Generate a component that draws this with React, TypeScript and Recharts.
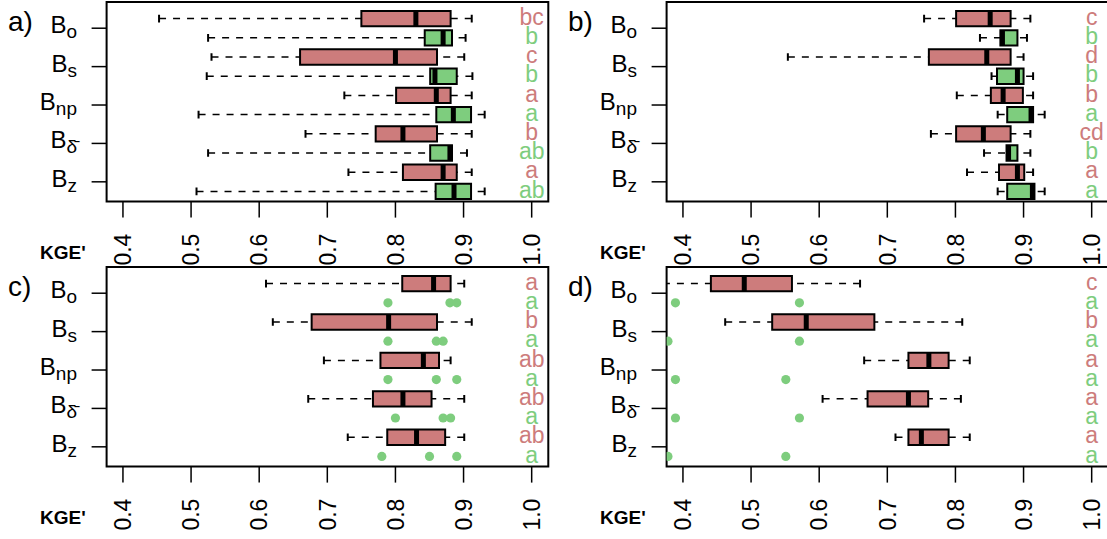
import React from "react";
import { ComposedChart, XAxis, YAxis, Scatter, ReferenceArea, ReferenceLine } from "recharts";

const groups = ["o", "s", "np", "δ\u0304", "z"];
const kgeTicks = [0.4, 0.5, 0.6, 0.7, 0.8, 0.9, 1.0];
const groupTicks = [1.5, 3.5, 5.5, 7.5, 9.5];

// [lower whisker, Q1, median, Q3, upper whisker] for each group
const redA = [
  [0.453, 0.75, 0.83, 0.881, 0.912],
  [0.53, 0.66, 0.8, 0.861, 0.901],
  [0.725, 0.801, 0.86, 0.881, 0.912],
  [0.668, 0.771, 0.811, 0.861, 0.912],
  [0.731, 0.811, 0.87, 0.89, 0.912],
];
const greenA = [
  [0.525, 0.843, 0.87, 0.883, 0.903],
  [0.523, 0.851, 0.858, 0.89, 0.913],
  [0.511, 0.86, 0.885, 0.911, 0.931],
  [0.525, 0.851, 0.88, 0.883, 0.905],
  [0.508, 0.859, 0.886, 0.911, 0.931],
];
const lettersA = ["bc", "b", "c", "b", "a", "a", "b", "ab", "a", "ab"];

const redB = [
  [0.754, 0.801, 0.851, 0.881, 0.91],
  [0.554, 0.761, 0.846, 0.881, 0.9],
  [0.802, 0.852, 0.87, 0.899, 0.914],
  [0.764, 0.801, 0.841, 0.881, 0.91],
  [0.817, 0.864, 0.891, 0.901, 0.914],
];
const greenB = [
  [0.836, 0.866, 0.869, 0.891, 0.905],
  [0.853, 0.861, 0.891, 0.9, 0.914],
  [0.862, 0.876, 0.911, 0.914, 0.931],
  [0.842, 0.875, 0.878, 0.891, 0.91],
  [0.862, 0.876, 0.913, 0.916, 0.931],
];
const lettersB = ["c", "b", "d", "b", "b", "a", "cd", "b", "a", "a"];

const redC = [
  [0.61, 0.81, 0.856, 0.881, 0.901],
  [0.62, 0.677, 0.79, 0.861, 0.912],
  [0.695, 0.778, 0.841, 0.864, 0.881],
  [0.672, 0.767, 0.811, 0.853, 0.901],
  [0.73, 0.788, 0.831, 0.873, 0.901],
];
const greenPointsC = [
  [0.789, 0.88, 0.89],
  [0.789, 0.86, 0.87],
  [0.789, 0.86, 0.89],
  [0.8, 0.87, 0.881],
  [0.78, 0.85, 0.89],
];
const lettersC = ["a", "a", "b", "a", "ab", "a", "ab", "a", "ab", "a"];

const redD = [
  [0.35, 0.441, 0.49, 0.56, 0.66],
  [0.462, 0.531, 0.581, 0.681, 0.81],
  [0.666, 0.731, 0.761, 0.79, 0.821],
  [0.605, 0.671, 0.731, 0.76, 0.808],
  [0.712, 0.731, 0.75, 0.79, 0.821],
];
const greenPointsD = [
  [0.389, 0.571],
  [0.378, 0.571],
  [0.389, 0.551],
  [0.389, 0.571],
  [0.378, 0.551],
];
const lettersD = ["c", "a", "b", "a", "a", "a", "a", "a", "a", "a"];

const RED = "#CD7C7C";
const GREEN = "#7ECD7E";
const FONT = "'Liberation Sans', Arial, sans-serif";
const X_DOMAIN = [0.376, 1.0244];
const Y_DOMAIN = [0.135, 10.53];
const LETTER_X = 1.0;

const XTick = (props: any) => {
  const { x, y, payload } = props;
  return (
    <text x={x} y={y} transform={`rotate(-90 ${x} ${y})`} textAnchor="end" dy="0.36em"
      fontSize={23} fontFamily={FONT} fill="#000">
      {Number(payload.value).toFixed(1)}
    </text>
  );
};

const GroupTick = (props: any) => {
  const { x, y, payload } = props;
  const i = groupTicks.indexOf(payload.value);
  return (
    <text x={x} y={y} dy={5} textAnchor="end" fontSize={24} fontFamily={FONT} fill="#000">
      B<tspan fontSize={19} dy={5}>{groups[i]}</tspan>
    </text>
  );
};

function boxElements(s: number[], row: number, fill: string, key: string) {
  return [
    <ReferenceLine key={key + "wl"} segment={[{ x: s[0], y: row }, { x: s[1], y: row }]}
      stroke="#000" strokeWidth={1.5} strokeDasharray="7 7" ifOverflow="hidden" />,
    <ReferenceLine key={key + "wr"} segment={[{ x: s[4], y: row }, { x: s[3], y: row }]}
      stroke="#000" strokeWidth={1.5} strokeDasharray="7 7" ifOverflow="hidden" />,
    <ReferenceLine key={key + "cl"} segment={[{ x: s[0], y: row - 0.2 }, { x: s[0], y: row + 0.2 }]}
      stroke="#000" strokeWidth={2} ifOverflow="hidden" />,
    <ReferenceLine key={key + "cr"} segment={[{ x: s[4], y: row - 0.2 }, { x: s[4], y: row + 0.2 }]}
      stroke="#000" strokeWidth={2} ifOverflow="hidden" />,
    <ReferenceArea key={key + "bx"} x1={s[1]} x2={s[3]} y1={row - 0.4} y2={row + 0.4}
      fill={fill} fillOpacity={1} stroke="#000" strokeWidth={2} ifOverflow="hidden" />,
    <ReferenceLine key={key + "md"} segment={[{ x: s[2], y: row - 0.4 }, { x: s[2], y: row + 0.4 }]}
      stroke="#000" strokeWidth={5} ifOverflow="hidden" />,
  ];
}

function Panel({ red, green, points, letters, left, top }: any) {
  const letterData = letters.map((t: string, i: number) => ({
    x: LETTER_X, y: i + 1, t, c: i % 2 === 0 ? RED : GREEN,
  }));
  const pointData = points
    ? points.flatMap((vals: number[], i: number) => vals.map((v) => ({ x: v, y: 2 * i + 2 })))
    : [];
  return (
    <div style={{ position: "absolute", left, top }}>
      <ComposedChart width={560} height={265} data={letterData}
        margin={{ top: 2, right: 11.7, bottom: 0, left: 0 }}>
        <XAxis type="number" dataKey="x" domain={X_DOMAIN} allowDataOverflow ticks={kgeTicks}
          interval={0} height={63.4} tickSize={16} tickMargin={16} axisLine={false}
          tickLine={{ stroke: "#000", strokeWidth: 1.5 }} tick={<XTick />} />
        <YAxis type="number" dataKey="y" domain={Y_DOMAIN} allowDataOverflow reversed
          ticks={groupTicks} interval={0} width={106.6} tickSize={15} tickMargin={14.6}
          axisLine={false} tickLine={{ stroke: "#000", strokeWidth: 1.5 }} tick={<GroupTick />} />
        {red.flatMap((s: number[], i: number) => boxElements(s, 2 * i + 1, RED, "r" + i))}
        {green && green.flatMap((s: number[], i: number) => boxElements(s, 2 * i + 2, GREEN, "g" + i))}
        <ReferenceArea x1={X_DOMAIN[0]} x2={X_DOMAIN[1]} y1={Y_DOMAIN[0]} y2={Y_DOMAIN[1]}
          fill="none" stroke="#000" strokeWidth={2} ifOverflow="visible" />
        {points && (
          <Scatter data={pointData} isAnimationActive={false}
            shape={(p: any) => <circle cx={p.cx} cy={p.cy} r={4.6} fill={GREEN} />} />
        )}
        <Scatter data={letterData} isAnimationActive={false}
          shape={(p: any) => (
            <text x={p.cx} y={p.cy} dy="0.27em" textAnchor="middle" fontSize={23}
              fontFamily={FONT} fill={p.payload.c}>
              {p.payload.t}
            </text>
          )} />
      </ComposedChart>
    </div>
  );
}

const panelLabels = [
  { t: "a)", x: 8, y: 31 },
  { t: "b)", x: 568, y: 31 },
  { t: "c)", x: 8, y: 296 },
  { t: "d)", x: 568, y: 296 },
];
const axisTitles = [
  { x: 40, y: 259 },
  { x: 600, y: 259 },
  { x: 40, y: 524 },
  { x: 600, y: 524 },
];

export default function App() {
  return (
    <div style={{ position: "absolute", left: 0, top: 0, width: 1107, height: 539, overflow: "hidden", background: "#fff" }}>
      <Panel red={redA} green={greenA} letters={lettersA} left={0} top={0} />
      <Panel red={redB} green={greenB} letters={lettersB} left={560} top={0} />
      <Panel red={redC} points={greenPointsC} letters={lettersC} left={0} top={265} />
      <Panel red={redD} points={greenPointsD} letters={lettersD} left={560} top={265} />
      <svg width={1107} height={539} style={{ position: "absolute", left: 0, top: 0, pointerEvents: "none" }}>
        {panelLabels.map((l) => (
          <text key={l.t} x={l.x} y={l.y} fontSize={28} fontFamily={FONT} fill="#000">{l.t}</text>
        ))}
        {axisTitles.map((a, i) => (
          <text key={i} x={a.x} y={a.y} fontSize={19} fontWeight="bold" fontFamily={FONT} fill="#000">KGE'</text>
        ))}
      </svg>
    </div>
  );
}
